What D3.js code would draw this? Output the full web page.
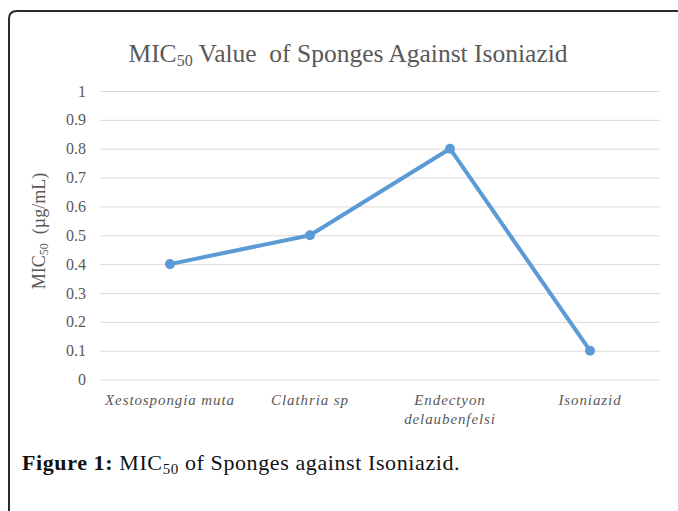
<!DOCTYPE html>
<html>
<head>
<meta charset="utf-8">
<script src="https://cdn.jsdelivr.net/npm/d3@7"></script>
<style>
  html, body { margin: 0; padding: 0; background: #fff; }
  svg { display: block; }
  text { white-space: pre; }
</style>
</head>
<body>
<svg id="chart" width="678" height="511"></svg>
<script>
// Samples and their MIC50 values (µg/mL)
const categories = [["Xestospongia muta"], ["Clathria sp"], ["Endectyon", "delaubenfelsi"], ["Isoniazid"]];
const micValues = [0.4, 0.5, 0.8, 0.1];
const yTicks = [0, 0.1, 0.2, 0.3, 0.4, 0.5, 0.6, 0.7, 0.8, 0.9, 1];
const yTickLabels = ["0", "0.1", "0.2", "0.3", "0.4", "0.5", "0.6", "0.7", "0.8", "0.9", "1"];

const svg = d3.select("#chart");
const W = 678, H = 511;
const serif = "'Liberation Serif', 'Times New Roman', serif";
const grey = "#595959";

// Outer frame: top and left edges with a rounded corner
svg.append("path")
  .attr("d", `M9,${H} L9,19 Q9,11 17,11 L${W},11`)
  .attr("fill", "none")
  .attr("stroke", "#2b2b2b")
  .attr("stroke-width", 2);

const plot = { left: 100, right: 660, top: 91, bottom: 379.5 };

const x = d3.scaleBand()
  .domain(d3.range(categories.length))
  .range([plot.left, plot.right]);

const y = d3.scaleLinear()
  .domain([0, 1])
  .range([plot.bottom, plot.top]);

// Horizontal gridlines with tick labels
const yAxis = d3.axisLeft(y)
  .tickValues(yTicks)
  .tickFormat((d, i) => yTickLabels[i])
  .tickSize(-(plot.right - plot.left))
  .tickPadding(14);

const gy = svg.append("g")
  .attr("transform", `translate(${plot.left},0)`)
  .call(yAxis);
gy.select(".domain").remove();
gy.selectAll(".tick line").attr("stroke", "#d9d9d9").attr("stroke-width", 1);
gy.selectAll(".tick text")
  .attr("font-family", serif)
  .attr("font-size", 16)
  .attr("fill", grey);

// Category labels, italic, possibly on two lines
const gx = svg.append("g");
categories.forEach((lines, i) => {
  const t = gx.append("text")
    .attr("x", x(i) + x.bandwidth() / 2)
    .attr("y", 405)
    .attr("text-anchor", "middle")
    .attr("font-family", serif)
    .attr("font-style", "italic")
    .attr("font-size", 15)
    .attr("letter-spacing", 0.9)
    .attr("fill", grey);
  lines.forEach((ln, j) => {
    t.append("tspan")
      .attr("x", x(i) + x.bandwidth() / 2)
      .attr("dy", j === 0 ? 0 : 19)
      .text(ln);
  });
});

// Series line and markers
const line = d3.line()
  .x((d, i) => x(i) + x.bandwidth() / 2)
  .y(d => y(d));

svg.append("path")
  .datum(micValues)
  .attr("d", line)
  .attr("fill", "none")
  .attr("stroke", "#5b9bd5")
  .attr("stroke-width", 4)
  .attr("stroke-linejoin", "round");

svg.append("g").selectAll("circle")
  .data(micValues)
  .join("circle")
  .attr("cx", (d, i) => x(i) + x.bandwidth() / 2)
  .attr("cy", d => y(d))
  .attr("r", 5)
  .attr("fill", "#5b9bd5");

// Chart title
const title = svg.append("text")
  .attr("x", 348)
  .attr("y", 62)
  .attr("text-anchor", "middle")
  .attr("font-family", serif)
  .attr("font-size", 25.5)
  .attr("fill", grey);
title.append("tspan").text("MIC");
title.append("tspan").attr("font-size", 16).attr("dy", 4).text("50");
title.append("tspan").attr("dy", -4).text(" Value  of Sponges Against Isoniazid");

// Y axis title
const yTitle = svg.append("text")
  .attr("transform", `translate(45,231) rotate(-90)`)
  .attr("text-anchor", "middle")
  .attr("font-family", serif)
  .attr("font-size", 18)
  .attr("fill", grey);
yTitle.append("tspan").text("MIC");
yTitle.append("tspan").attr("font-size", 12).attr("dy", 3).text("50");
yTitle.append("tspan").attr("dy", -3).text("  (µg/mL)");

// Figure caption
const cap = svg.append("text")
  .attr("x", 22)
  .attr("y", 470)
  .attr("font-family", serif)
  .attr("font-size", 22)
  .attr("letter-spacing", 0.6)
  .attr("fill", "#111");
cap.append("tspan").attr("font-weight", "bold").text("Figure 1:");
cap.append("tspan").text(" MIC");
cap.append("tspan").attr("font-size", 15).attr("dy", 4).text("50");
cap.append("tspan").attr("dy", -4).text(" of Sponges against Isoniazid.");
</script>
</body>
</html>
